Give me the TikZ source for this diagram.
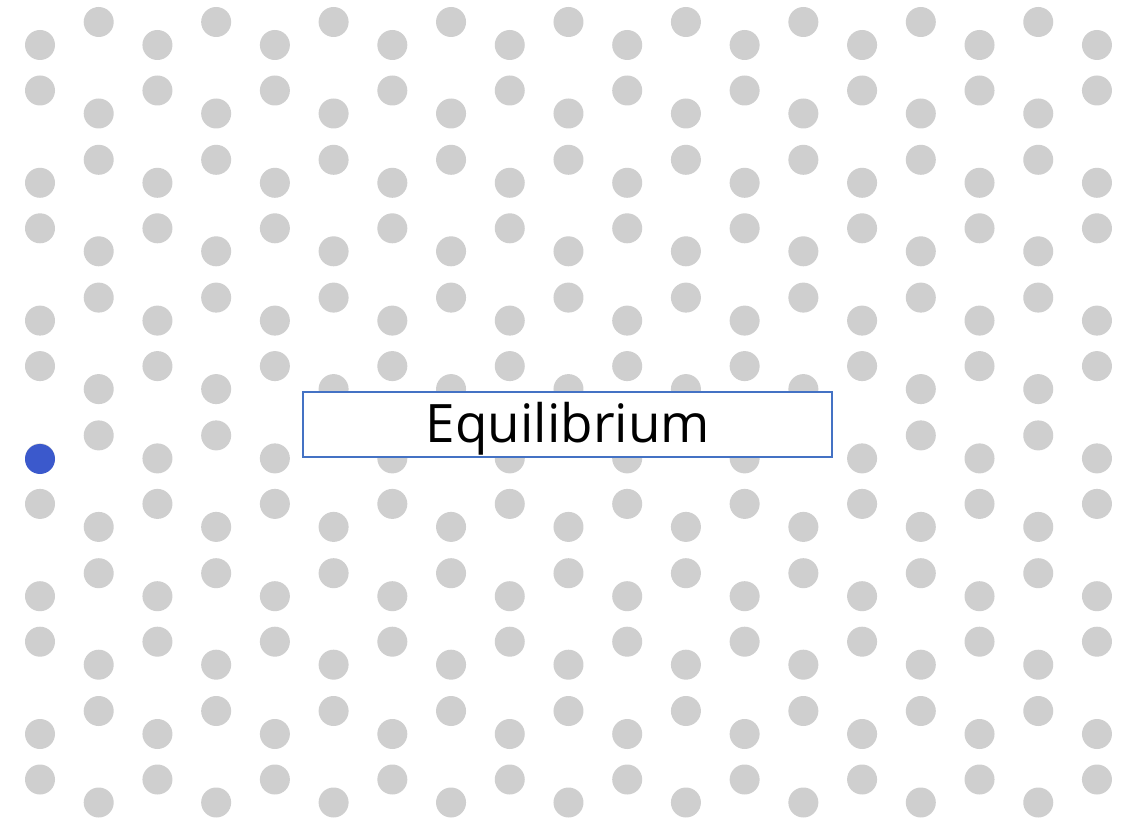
\documentclass[tikz,border=0pt]{standalone}
\usepackage{fontspec}
\setmainfont{Open Sans}
\definecolor{dotgray}{RGB}{207,207,207}
\definecolor{dotblue}{RGB}{59,89,204}
\definecolor{boxblue}{RGB}{68,114,196}
\tikzset{
  dot/.style={circle, fill=dotgray, inner sep=0pt, minimum size=30pt},
  bluedot/.style={circle, fill=dotblue, inner sep=0pt, minimum size=30pt},
  labelbox/.style={draw=boxblue, line width=1.5pt, fill=white, minimum width=529pt, minimum height=65pt, inner sep=0pt},
  labeltext/.style={inner sep=0pt, anchor=base, font=\fontsize{53}{60}\selectfont}
}
\begin{document}
\begin{tikzpicture}[x=1pt,y=-1pt]
\fill[white] (0,0) rectangle (1127,818);
\useasboundingbox (0,0) rectangle (1127,818);
\foreach \i in {0,...,18}{
  \pgfmathsetmacro{\xx}{40+58.72*\i}
  \pgfmathtruncatemacro{\colpar}{mod(\i,2)}
  \foreach \k in {0,...,5}{
    \ifnum\colpar=0
      \pgfmathsetmacro{\ya}{45+137.8*\k}
      \pgfmathsetmacro{\yb}{90.5+137.8*\k}
    \else
      \pgfmathsetmacro{\ya}{22+137.8*\k}
      \pgfmathsetmacro{\yb}{113.5+137.8*\k}
    \fi
    \node[dot] (d-\i-\k-a) at (\xx,\ya) {};
    \node[dot] (d-\i-\k-b) at (\xx,\yb) {};
  }
}
\node[bluedot] (walker) at (40,459) {};
\node[labelbox] (eq) at (567.5,424.5) {};
\node[labeltext] (eqtext) at (568,442) {Equilibrium};
\end{tikzpicture}
\end{document}
